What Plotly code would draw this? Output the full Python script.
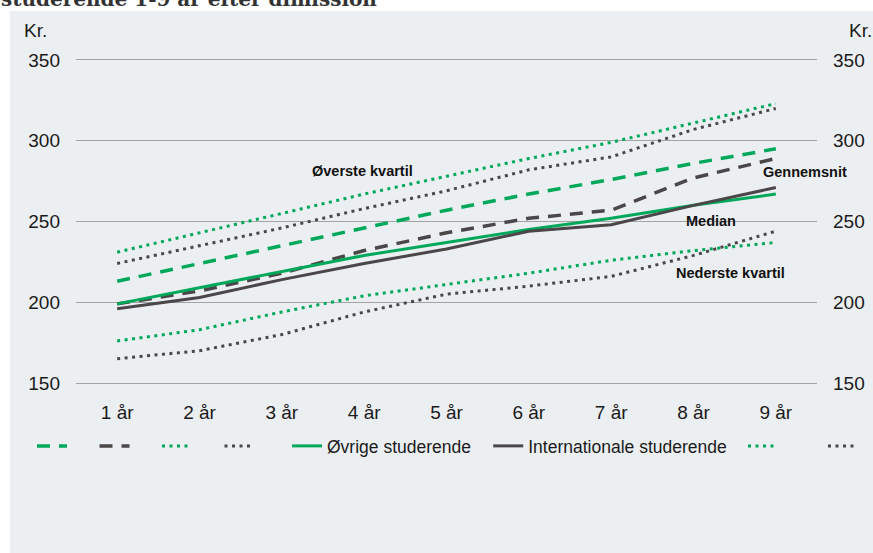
import plotly.graph_objects as go

# ---------------- data ----------------
categories = ["1 år", "2 år", "3 år", "4 år", "5 år", "6 år", "7 år", "8 år", "9 år"]

ovrige_gennemsnit = [213, 224, 235, 246, 257, 267, 276, 286, 295]
intl_gennemsnit = [199, 207, 218, 232, 243, 252, 257, 277, 289]
ovrige_ovre_kvartil = [231, 243, 255, 267, 278, 289, 299, 311, 323]
intl_ovre_kvartil = [224, 235, 246, 258, 269, 282, 290, 307, 320]
ovrige_median = [199, 209, 219, 229, 237, 245, 252, 260, 267]
intl_median = [196, 203, 214, 224, 233, 244, 248, 260, 271]
ovrige_nedre_kvartil = [176, 183, 194, 204, 211, 218, 226, 232, 237]
intl_nedre_kvartil = [165, 170, 180, 194, 205, 210, 216, 229, 244]

y_ticks = [150, 200, 250, 300, 350]
title_text = "studerende 1-9 år efter dimission"

# ---------------- styling ----------------
W, H = 873, 553
L, R, T, B = 76, 56, 60, 170
PW, PH = W - L - R, H - T - B

GREEN = "#00A85A"
GREY = "#4B4647"
PANEL = "#ECEFF2"
GRID = "#A3A3A3"
TXT = "#1A1A1A"
FONT = "Arial, Liberation Sans, sans-serif"

DOT = "3px,4.5px"
DASH = "13px,9px"


def xp(px):
    return (px - L) / PW


def yp(py):
    return (H - B - py) / PH


EM = "\u2003"
EN = "\u2002"
THIN = "\u2009"

# (values, colour, dash, width, legend label, legend id, y-axis)
series = [
    (ovrige_gennemsnit, GREEN, DASH, 3.5, EM, "legend", "y"),
    (intl_gennemsnit, GREY, DASH, 3.5, EM, "legend", "y"),
    (ovrige_ovre_kvartil, GREEN, DOT, 3, EM, "legend", "y"),
    (intl_ovre_kvartil, GREY, DOT, 3, EM, "legend", "y"),
    (ovrige_median, GREEN, "solid", 3, "Øvrige studerende" + EN + THIN, "legend2", "y"),
    (intl_median, GREY, "solid", 3, "Internationale studerende", "legend2", "y"),
    (ovrige_nedre_kvartil, GREEN, DOT, 3, EM + EM, "legend3", "y"),
    (intl_nedre_kvartil, GREY, DOT, 3, EM, "legend3", "y2"),
]

fig = go.Figure()
for vals, col, dash, w, name, leg, yax in series:
    fig.add_trace(go.Scatter(
        x=categories, y=vals, mode="lines", name=name,
        line=dict(color=col, width=w, dash=dash),
        legend=leg, yaxis=yax,
        hoverinfo="skip",
    ))

leg_common = dict(
    orientation="h", xanchor="left",
    y=yp(446), yanchor="middle",
    font=dict(family=FONT, size=17.5, color=TXT),
    bgcolor="rgba(0,0,0,0)", borderwidth=0,
    itemwidth=30,
)

fig.update_layout(
    width=W, height=H, autosize=False,
    margin=dict(l=L, r=R, t=T, b=B, pad=0, autoexpand=False),
    paper_bgcolor="white",
    plot_bgcolor=PANEL,
    font=dict(family=FONT, size=19, color=TXT),
    showlegend=True,
    legend=dict(x=xp(32), **leg_common),
    legend2=dict(x=xp(287), **leg_common),
    legend3=dict(x=xp(743), **leg_common),
    xaxis=dict(
        type="category", range=[-0.5, 8.5],
        showgrid=False, zeroline=False, ticks="",
        showline=True, mirror=True, linecolor=GRID, linewidth=1,
        tickfont=dict(size=19, color=TXT),
        ticklabelstandoff=12,
        fixedrange=True,
    ),
    yaxis=dict(
        range=[150, 350], tickvals=y_ticks,
        showgrid=True, gridcolor=GRID, gridwidth=1,
        zeroline=False, showline=False, ticks="",
        tickfont=dict(size=19, color=TXT),
        ticklabelstandoff=15,
        fixedrange=True,
    ),
    yaxis2=dict(
        range=[150, 350], tickvals=y_ticks, overlaying="y", side="right",
        showgrid=False, zeroline=False, showline=False, ticks="",
        tickfont=dict(size=19, color=TXT),
        ticklabelstandoff=15,
        fixedrange=True,
    ),
    shapes=[dict(
        type="rect", xref="paper", yref="paper", layer="below",
        x0=xp(10), x1=xp(890), y0=yp(570), y1=yp(11),
        fillcolor=PANEL, line=dict(width=0),
    )],
)

annotations = [
    dict(text="Kr.", x=xp(35), y=yp(30), font=dict(size=19, color=TXT)),
    dict(text="Kr.", x=xp(860), y=yp(30), font=dict(size=19, color=TXT)),
    dict(text="<b>Øverste kvartil</b>", x=xp(362), y=yp(171),
         font=dict(size=14.5, color="#111111")),
    dict(text="<b>Gennemsnit</b>", x=xp(805), y=yp(172),
         font=dict(size=14.5, color="#111111")),
    dict(text="<b>Median</b>", x=xp(711), y=yp(221),
         font=dict(size=14.5, color="#111111")),
    dict(text="<b>Nederste kvartil</b>", x=xp(730), y=yp(273),
         font=dict(size=14.5, color="#111111")),
]
for a in annotations:
    fig.add_annotation(xref="paper", yref="paper", showarrow=False,
                       xanchor="center", yanchor="middle", **a)

fig.add_annotation(
    xref="paper", yref="paper", showarrow=False,
    text="<b>" + title_text + "</b>",
    x=xp(-1), y=yp(13), xanchor="left", yanchor="bottom",
    font=dict(family="DejaVu Serif, serif", size=20, color="#333333"),
)

fig.write_html(
    "out.html",
    config={"displayModeBar": False, "staticPlot": True},
    post_script="document.body.style.margin='0';",
)
